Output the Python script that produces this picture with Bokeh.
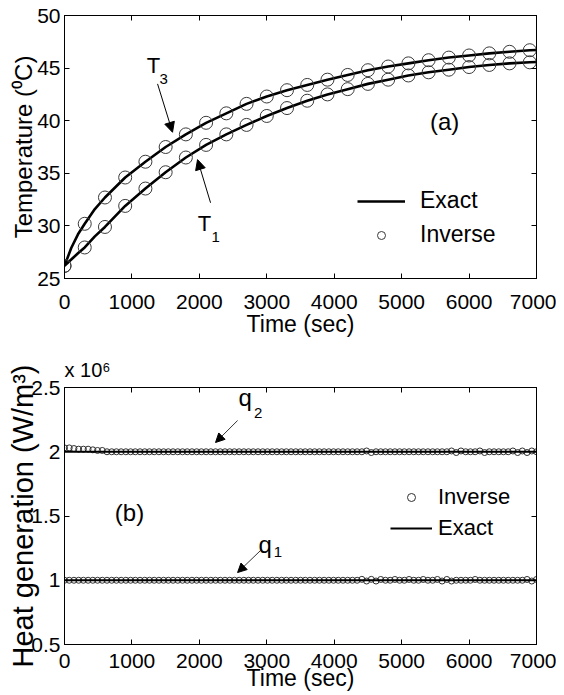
from bokeh.plotting import figure
from bokeh.models import (LinearAxis, Legend, LegendItem, Arrow, NormalHead, Label,
                          Range1d, FixedTicker, CustomLabelingPolicy)
from bokeh.layouts import column
from bokeh.embed import file_html
from bokeh.resources import INLINE

FONT = "Liberation Sans"

# ---------------- data (a) ----------------
t_inv = [0, 300, 600, 900, 1200, 1500, 1800, 2100, 2400, 2700, 3000, 3300,
         3600, 3900, 4200, 4500, 4800, 5100, 5400, 5700, 6000, 6300, 6600, 6900]
T3_inv = [26.2, 30.2, 32.7, 34.6, 36.1, 37.5, 38.7, 39.8, 40.7, 41.6, 42.3, 42.9,
          43.4, 43.9, 44.35, 44.8, 45.15, 45.45, 45.75, 46.0, 46.2, 46.4, 46.55, 46.7]
T1_inv = [26.2, 27.95, 29.9, 31.9, 33.55, 35.1, 36.5, 37.7, 38.7, 39.6, 40.45, 41.2,
          41.9, 42.5, 43.0, 43.5, 43.9, 44.3, 44.6, 44.85, 45.1, 45.3, 45.45, 45.55]

t_exact = [0, 100, 200, 300, 450, 600, 900, 1200, 1500, 1800, 2100, 2400, 2700, 3000,
           3300, 3600, 3900, 4200, 4500, 4800, 5100, 5400, 5700, 6000, 6300, 6600,
           6900, 7000]
T3_exact = [26.2, 27.9, 29.2, 30.2, 31.6, 32.7, 34.6, 36.1, 37.5, 38.7, 39.8, 40.7,
            41.6, 42.3, 42.9, 43.4, 43.9, 44.35, 44.8, 45.15, 45.45, 45.75, 46.0,
            46.2, 46.4, 46.55, 46.7, 46.72]
T1_exact = [26.2, 26.8, 27.4, 27.95, 29.0, 29.9, 31.9, 33.55, 35.1, 36.5, 37.7, 38.7,
            39.6, 40.45, 41.2, 41.9, 42.5, 43.0, 43.5, 43.9, 44.3, 44.6, 44.85, 45.1,
            45.3, 45.45, 45.55, 45.58]

# ---------------- data (b), in units of 10^6 W/m^3 ----------------
t_q = list(range(0, 7001, 70))
q2_inv = [2.03, 2.03, 2.025, 2.02, 2.02, 2.02, 2.015, 2.01, 2.01, 2.0,
          2.0, 2.0, 2.0, 2.0, 2.0, 2.0, 2.0, 2.0, 2.0, 2.0,
          2.0, 2.0, 2.0, 2.0, 2.0, 2.0, 2.0, 2.0, 2.0, 2.0,
          2.0, 2.0, 2.0, 2.0, 2.0, 2.0, 2.0, 2.0, 2.0, 2.0,
          2.0, 2.0, 2.0, 2.0, 2.0, 2.0, 2.0, 2.0, 2.0, 2.0,
          2.0, 2.0, 2.0, 2.0, 2.0, 2.0, 2.0, 2.0, 2.0, 2.0,
          2.0, 2.0, 2.0, 2.0, 2.006, 1.994, 2.0, 2.0, 2.0, 2.0,
          2.0, 2.0, 2.0, 2.0, 2.0, 2.0, 2.0, 2.0, 2.0, 2.0,
          2.0, 2.0, 2.006, 1.994, 2.006, 2.0, 2.0, 2.0, 2.006, 1.994,
          2.0, 2.0, 2.0, 2.0, 2.0, 2.006, 1.994, 2.006, 1.994, 2.006, 2.0]
q1_inv = [1.0, 1.0, 1.0, 1.0, 1.0, 1.0, 1.0, 1.0, 1.0, 1.0,
          1.0, 1.0, 1.0, 1.0, 1.0, 1.0, 1.0, 1.0, 1.0, 1.0,
          1.0, 1.0, 1.0, 1.0, 1.0, 1.0, 1.0, 1.0, 1.0, 1.0,
          1.0, 1.0, 1.0, 1.0, 1.0, 1.0, 1.0, 1.0, 1.0, 1.0,
          1.0, 1.0, 1.0, 1.0, 1.0, 1.0, 1.0, 1.0, 1.0, 1.0,
          1.0, 1.0, 1.0, 1.0, 1.0, 1.0, 1.0, 1.0, 1.0, 1.0,
          1.0, 1.0, 1.0, 1.007, 0.994, 1.007, 0.994, 1.006, 1.0, 1.0,
          1.006, 1.0, 1.0, 1.006, 1.0, 1.0, 1.006, 1.0, 1.0, 1.006,
          0.994, 1.006, 0.994, 1.0, 1.0, 1.0, 1.0, 1.006, 1.0, 1.0,
          1.0, 1.0, 1.0, 1.0, 1.0, 1.0, 1.0, 1.0, 1.006, 0.994, 1.006]
t_q_exact = [0, 7000]
q2_exact = [2.0, 2.0]
q1_exact = [1.0, 1.0]

x_ticks = [0, 1000, 2000, 3000, 4000, 5000, 6000, 7000]
ya_ticks = [25, 30, 35, 40, 45, 50]
yb_ticks = [0.5, 1.0, 1.5, 2.0, 2.5]
yb_tick_labels = {0.5: "0.5", 1.0: "1", 1.5: "1.5", 2.0: "2", 2.5: "2.5"}

HIDE_ALL = CustomLabelingPolicy(code="for (const i of indices) { indices.unset(i) }\nreturn indices")


def style_axis(ax, show_labels=True):
    ax.major_tick_in = 5
    ax.major_tick_out = 0
    ax.minor_tick_line_color = None
    ax.axis_line_color = "black"
    ax.major_tick_line_color = "black"
    ax.major_label_text_font = FONT
    ax.major_label_text_color = "black"
    ax.axis_label_text_font = FONT
    ax.axis_label_text_font_style = "normal"
    ax.axis_label_text_color = "black"
    ax.axis_label_text_font_size = "23px"
    if show_labels:
        ax.major_label_text_font_size = "21px"
    else:
        ax.major_label_text_font_size = "0px"
        ax.major_label_standoff = 0
        ax.major_label_policy = HIDE_ALL


def make_fig(height, border_top, border_bottom, yr, yticks, title=None):
    p = figure(width=556, height=height, output_backend="svg", toolbar_location=None,
               x_range=Range1d(0, 7000), y_range=Range1d(*yr), title=title,
               min_border_left=64, min_border_right=20,
               min_border_top=border_top, min_border_bottom=border_bottom)
    p.grid.visible = False
    p.outline_line_color = "black"
    p.outline_line_width = 1
    p.background_fill_color = "white"
    p.border_fill_color = "white"
    p.xaxis.ticker = FixedTicker(ticks=x_ticks)
    p.yaxis.ticker = FixedTicker(ticks=yticks)
    for ax in p.xaxis:
        style_axis(ax)
        ax.axis_label = "Time (sec)"
    for ax in p.yaxis:
        style_axis(ax)
        ax.major_label_standoff = 4
    top = LinearAxis(ticker=FixedTicker(ticks=x_ticks))
    style_axis(top, show_labels=False)
    p.add_layout(top, "above")
    right = LinearAxis(ticker=FixedTicker(ticks=yticks))
    style_axis(right, show_labels=False)
    p.add_layout(right, "right")
    return p


# ---------------- figure (a) ----------------
p1 = make_fig(340, 15, 62, (25, 50), ya_ticks)
xb1 = p1.below[0]
xb1.major_label_standoff = 16
xb1.axis_label_standoff = -1
yl1 = p1.left[0]
yl1.axis_label = "Temperature (\u2070C)"
yl1.axis_label_text_font_size = "24px"
yl1.axis_label_standoff = -3

l3 = p1.line(t_exact, T3_exact, line_color="black", line_width=2.6)
p1.line(t_exact, T1_exact, line_color="black", line_width=2.6)
c3 = p1.scatter(t_inv, T3_inv, marker="circle", size=13, fill_color=None,
                line_color="#3a3a3a", line_width=1)
p1.scatter(t_inv, T1_inv, marker="circle", size=13, fill_color=None,
           line_color="#3a3a3a", line_width=1)

leg1 = Legend(items=[LegendItem(label="Exact", renderers=[l3]),
                     LegendItem(label="Inverse", renderers=[c3])],
              location=(293, 30), glyph_width=48, glyph_height=20, label_height=20,
              label_standoff=15, spacing=7, padding=0, margin=0,
              border_line_alpha=0, background_fill_alpha=0,
              label_text_font=FONT, label_text_font_size="23px",
              label_text_color="black")
p1.add_layout(leg1)

p1.add_layout(Arrow(x_start=1380, y_start=43.5, x_end=1602, y_end=38.9,
                    line_width=1, line_color="black",
                    end=NormalHead(size=10, fill_color="black", line_color="black")))
p1.add_layout(Arrow(x_start=2166, y_start=32.2, x_end=1973, y_end=36.3,
                    line_width=1, line_color="black",
                    end=NormalHead(size=10, fill_color="black", line_color="black")))
for x, y, txt, fs in [(1220, 45.25, "T", "22px"), (1410, 44.0, "3", "15px"),
                      (1975, 30.23, "T", "22px"), (2180, 28.9, "1", "15px")]:
    p1.add_layout(Label(x=x, y=y, text=txt, text_font=FONT, text_font_size=fs,
                        text_color="black", text_align="left",
                        text_baseline="alphabetic"))
p1.add_layout(Label(x=5638, y=39.9, text="(a)", text_font=FONT, text_font_size="24px",
                    text_color="black", text_align="center", text_baseline="middle"))

# ---------------- figure (b) ----------------
p2 = make_fig(355, 47, 51, (0.5, 2.5), yb_ticks, title="x 10\u2076")
p2.title.text_font = FONT
p2.title.text_font_size = "20px"
p2.title.text_font_style = "normal"
p2.title.text_color = "black"
p2.title.align = "left"
p2.title.offset = 0
p2.title.standoff = 14
xb2 = p2.below[0]
xb2.major_label_standoff = 9
xb2.axis_label_standoff = -6
yl2 = p2.left[0]
yl2.major_label_overrides = yb_tick_labels
yl2.axis_label = "Heat generation (W/m\u00b3)"
yl2.axis_label_text_font_size = "29px"
yl2.axis_label_standoff = -11

ci2 = p2.scatter(t_q, q2_inv, marker="circle", size=6, fill_color=None,
                 line_color="#303030", line_width=1)
p2.scatter(t_q, q1_inv, marker="circle", size=6, fill_color=None,
           line_color="#303030", line_width=1)
le2 = p2.line(t_q_exact, q2_exact, line_color="black", line_width=1.8)
p2.line(t_q_exact, q1_exact, line_color="black", line_width=1.8)

leg2 = Legend(items=[LegendItem(label="Inverse", renderers=[ci2]),
                     LegendItem(label="Exact", renderers=[le2])],
              location=(326, 103), glyph_width=42, glyph_height=20, label_height=20,
              label_standoff=6, spacing=5, padding=0, margin=0,
              border_line_alpha=0, background_fill_alpha=0,
              label_text_font=FONT, label_text_font_size="22px",
              label_text_color="black")
p2.add_layout(leg2)

p2.add_layout(Arrow(x_start=2567, y_start=2.243, x_end=2240, y_end=2.072,
                    line_width=0.8, line_color="black",
                    end=NormalHead(size=9, fill_color="black", line_color="black")))
p2.add_layout(Arrow(x_start=2908, y_start=1.232, x_end=2567, y_end=1.060,
                    line_width=0.8, line_color="black",
                    end=NormalHead(size=9, fill_color="black", line_color="black")))
for x, y, txt, fs in [(2582, 2.42, "q", "24px"), (2810, 2.305, "2", "15px"),
                      (2878, 1.278, "q", "24px"), (3105, 1.216, "1", "15px")]:
    p2.add_layout(Label(x=x, y=y, text=txt, text_font=FONT, text_font_size=fs,
                        text_color="black", text_align="left",
                        text_baseline="alphabetic"))
p2.add_layout(Label(x=964, y=1.527, text="(b)", text_font=FONT, text_font_size="24px",
                    text_color="black", text_align="center", text_baseline="middle"))

layout = column(p1, p2)
open("out.html", "w").write(file_html(layout, INLINE))
